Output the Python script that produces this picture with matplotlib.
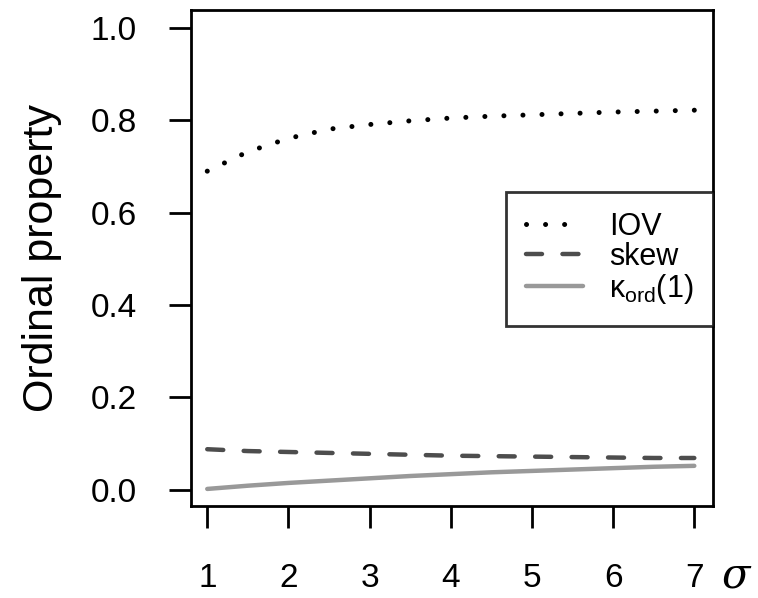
import numpy as np
import matplotlib
matplotlib.use('Agg')
import matplotlib.pyplot as plt

plt.rcParams['font.family'] = ['Liberation Sans', 'DejaVu Sans']
plt.rcParams['mathtext.fontset'] = 'custom'
plt.rcParams['mathtext.rm'] = 'Liberation Sans'
plt.rcParams['mathtext.it'] = 'Liberation Sans'

sigma = [1.0, 1.5, 2.0, 2.5, 3.0, 3.5, 4.0, 4.5, 5.0, 5.5, 6.0, 6.5, 7.0]
iov = [0.690, 0.732, 0.761, 0.781, 0.791, 0.799, 0.805, 0.809, 0.812, 0.815, 0.818, 0.820, 0.822]
skew = [0.088, 0.084, 0.082, 0.080, 0.078, 0.076, 0.074, 0.073, 0.072, 0.071, 0.070, 0.069, 0.069]
kord = [0.002, 0.009, 0.015, 0.020, 0.025, 0.030, 0.034, 0.038, 0.041, 0.044, 0.047, 0.050, 0.052]

fig = plt.figure(figsize=(7.58, 5.98), dpi=100)
ax = fig.add_axes([0.252, 0.1538, 0.6886, 0.8303])

lw = 3.2
ax.plot(sigma, iov, color='black', lw=3.6, linestyle=(0, (0.01, 3.8)),
        dash_capstyle='round', label='IOV')
ax.plot(sigma, skew, color='#4d4d4d', lw=lw, linestyle=(0, (3.6, 4.6)),
        dash_capstyle='round', label='skew')
ax.plot(sigma, kord, color='#999999', lw=lw, solid_capstyle='round',
        label=r'$\kappa_{\mathrm{ord}}(1)$')

ax.set_xlim(0.80, 7.23)
ax.set_ylim(-0.035, 1.04)
ax.set_xticks([1, 2, 3, 4, 5, 6, 7])
ax.set_yticks([0.0, 0.2, 0.4, 0.6, 0.8, 1.0])
ax.set_yticklabels(['0.0', '0.2', '0.4', '0.6', '0.8', '1.0'])

for s in ax.spines.values():
    s.set_linewidth(2.0)
ax.tick_params(axis='both', direction='out', length=16, width=2.0, labelsize=24)
ax.tick_params(axis='y', pad=23)
ax.tick_params(axis='x', pad=25)

ax.set_ylabel('Ordinal property', fontsize=31)
ax.yaxis.set_label_coords(-0.247, 0.5)
fig.text(0.972, (598 - 588) / 598, r'$\sigma$', fontsize=30, ha='center', va='baseline',
         math_fontfamily='dejavuserif')

leg = ax.legend(loc='upper right', bbox_to_anchor=(1.0, 0.632), borderaxespad=0,
                fontsize=22, frameon=True, fancybox=False, edgecolor='black',
                handlelength=1.85, handletextpad=0.85, labelspacing=0.0,
                borderpad=0.65)
leg.get_frame().set_linewidth(2.0)

fig.savefig('out.png', dpi=100)
